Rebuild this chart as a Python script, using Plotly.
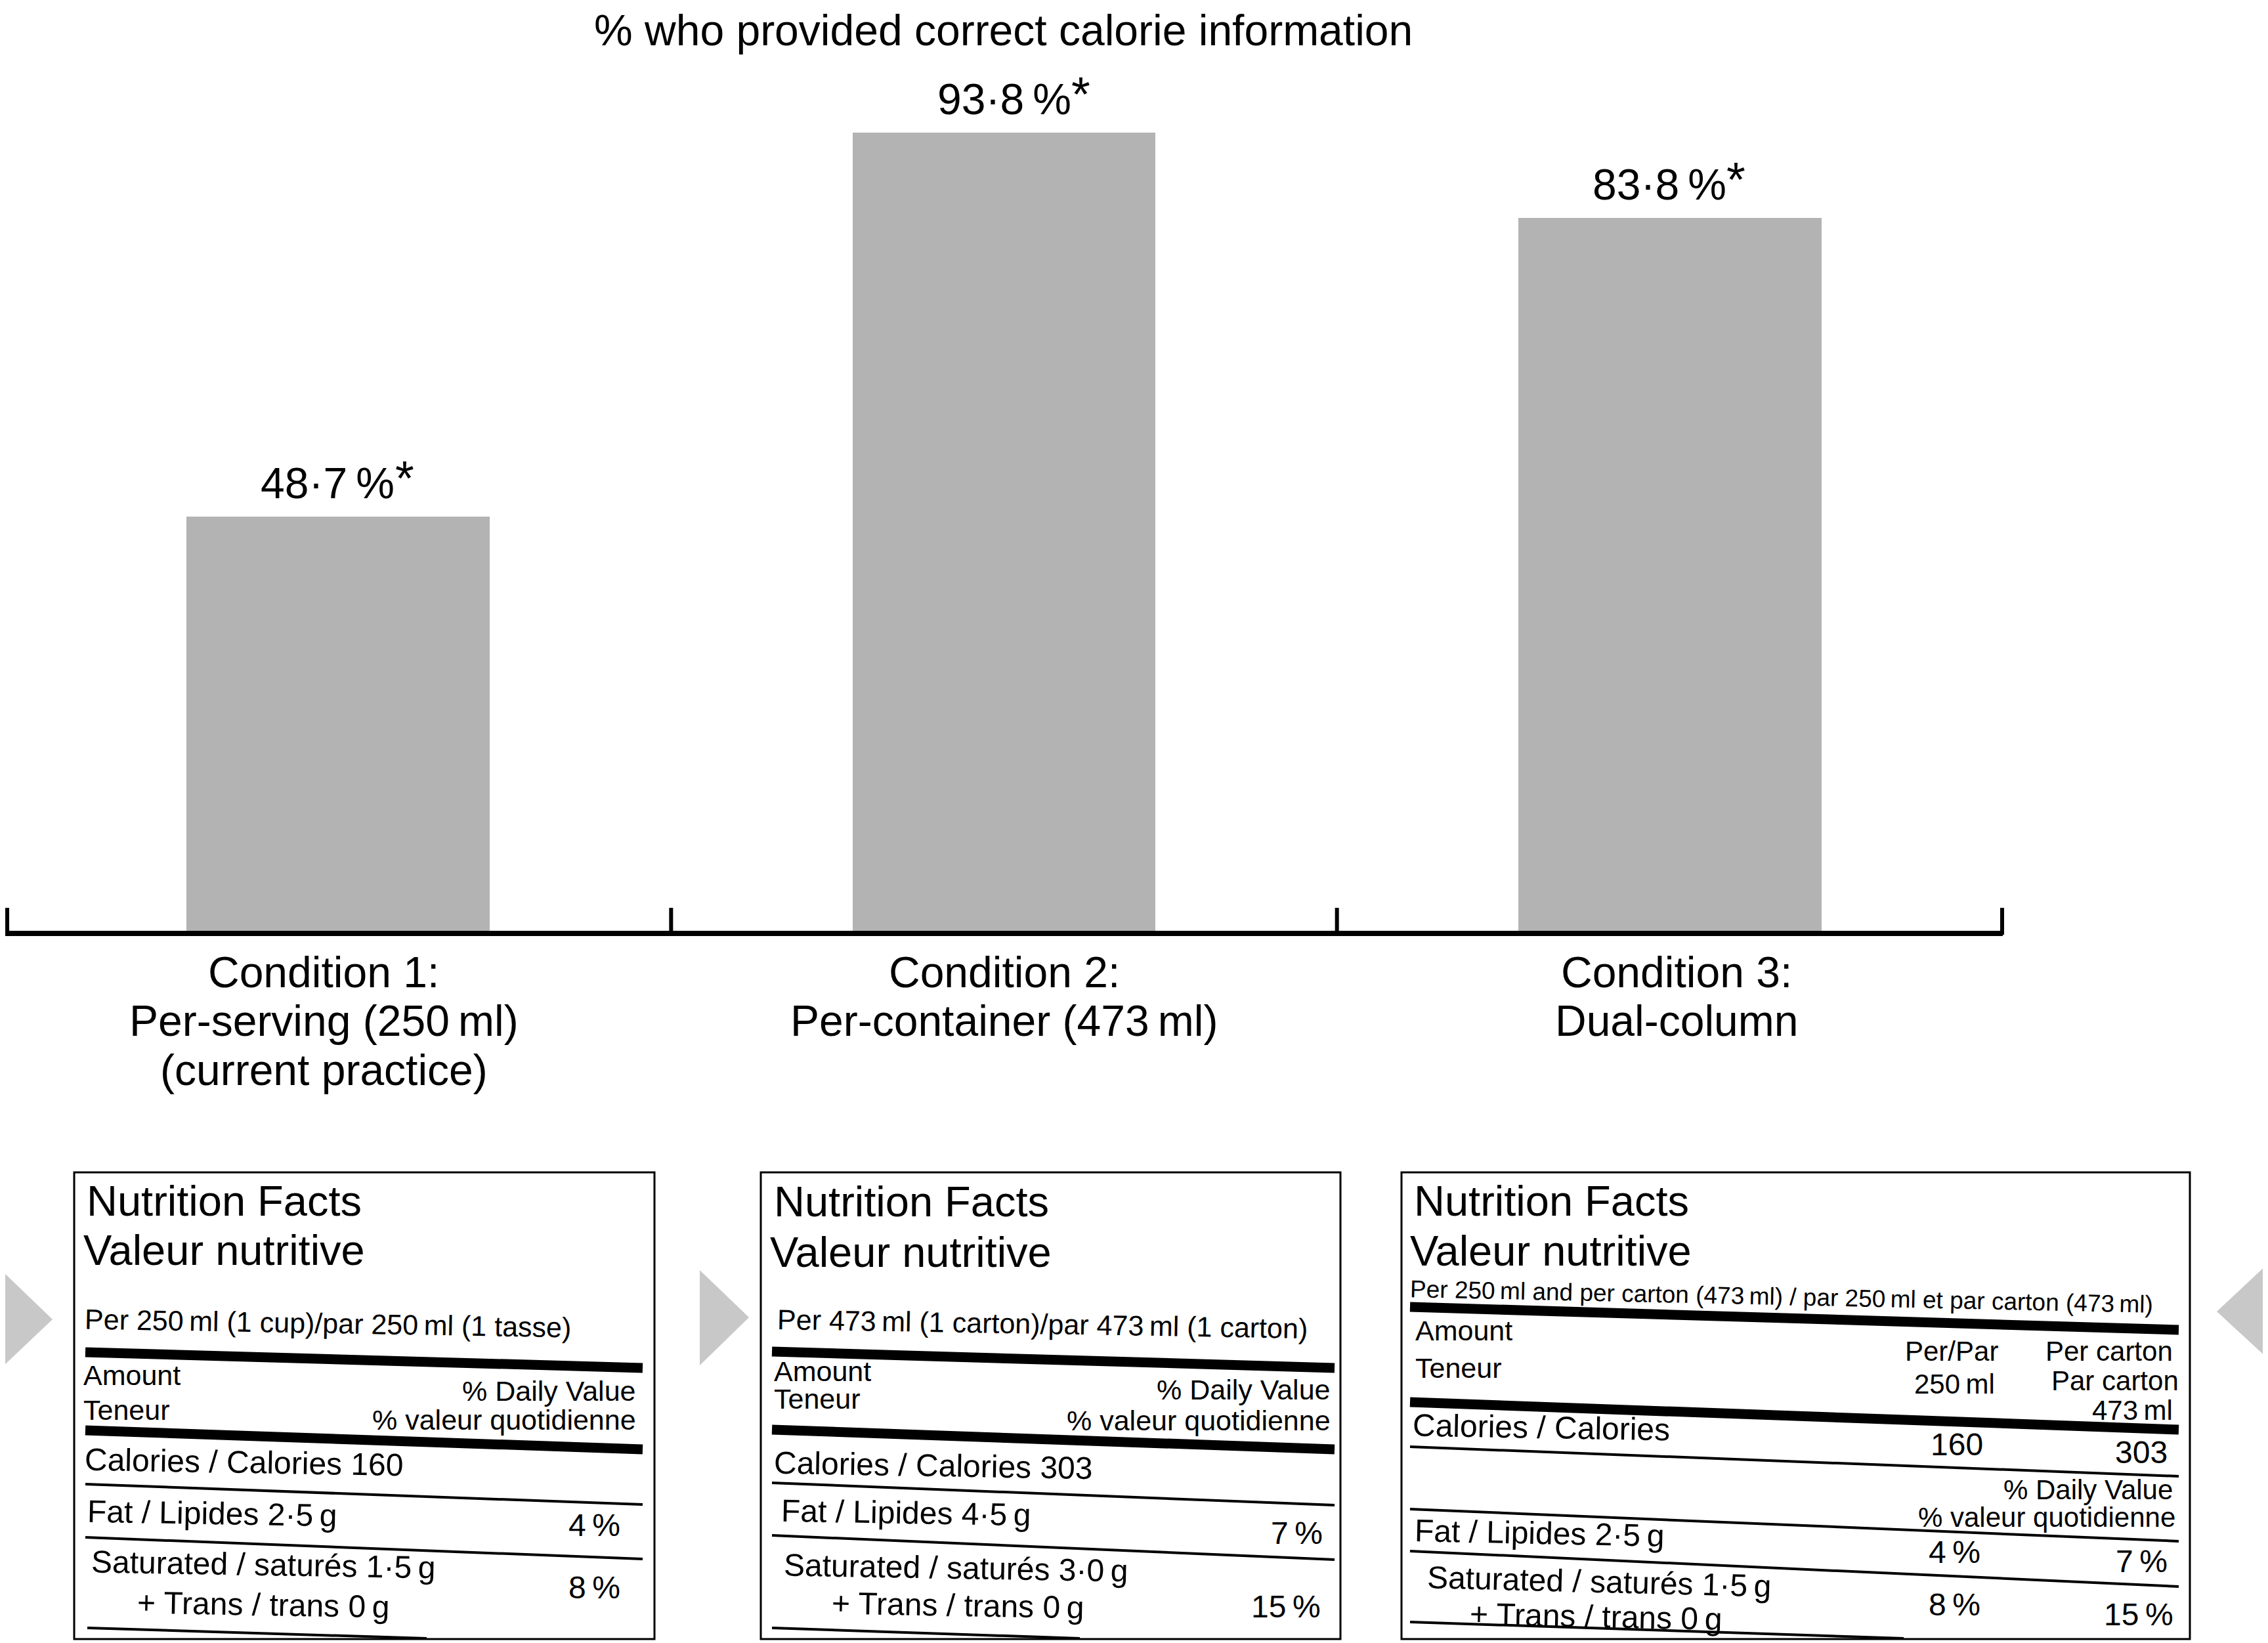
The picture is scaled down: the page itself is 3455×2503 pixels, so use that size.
import math
import plotly.graph_objects as go

W, H = 3455, 2503          # target picture size
OFF = 8                    # default <body> margin of the page
FW, FH = W - OFF, H - OFF  # figure size so that it fills the window after the margin
FONT = "Liberation Sans, Arial, Helvetica, sans-serif"

# ---------------- data ----------------
conditions = ["Condition 1", "Condition 2", "Condition 3"]
pct_correct = [48.7, 93.8, 83.8]
value_labels = ["48·7\u2009%", "93·8\u2009%", "83·8\u2009%"]
significance_mark = "*"
condition_label_lines = [
    ["Condition 1:", "Per-serving (250\u2009ml)", "(current practice)"],
    ["Condition 2:", "Per-container (473\u2009ml)"],
    ["Condition 3:", "Dual-column"],
]
chart_title = "% who provided correct calorie information"

# nutrition label contents
p1_rows = {
    "serving": "Per 250\u2009ml (1 cup)/par 250\u2009ml (1 tasse)",
    "calories": "Calories / Calories 160",
    "fat": "Fat / Lipides 2·5\u2009g", "fat_dv": "4\u2009%",
    "sat": "Saturated / saturés 1·5\u2009g", "trans": "+ Trans / trans 0\u2009g", "sat_dv": "8\u2009%",
}
p2_rows = {
    "serving": "Per 473\u2009ml (1 carton)/par 473\u2009ml (1 carton)",
    "calories": "Calories / Calories 303",
    "fat": "Fat / Lipides 4·5\u2009g", "fat_dv": "7\u2009%",
    "sat": "Saturated / saturés 3·0\u2009g", "trans": "+ Trans / trans 0\u2009g", "sat_dv": "15\u2009%",
}
p3_rows = {
    "serving": "Per 250\u2009ml and per carton (473\u2009ml) / par 250\u2009ml et par carton (473\u2009ml)",
    "calories": "Calories / Calories", "cal_250": "160", "cal_473": "303",
    "fat": "Fat / Lipides 2·5\u2009g", "fat_250": "4\u2009%", "fat_473": "7\u2009%",
    "sat": "Saturated / saturés 1·5\u2009g", "trans": "+ Trans / trans 0\u2009g",
    "sat_250": "8\u2009%", "sat_473": "15\u2009%",
}

# style offsets (pixels) of the texts relative to their bars
value_label_xshift = [-16, 0, -16]
cond_label_xshift = [-22, 0, 10]

# ---------------- helpers (page pixels -> paper) ----------------
def px(x):
    return (x - OFF) / FW


def py(y):
    return 1 - (y - OFF) / FH


annotations = []
shapes = []


def txt(s, x, y_base, size, anchor="left", angle=0, color="black"):
    yc = y_base - 0.3465 * size
    if angle and anchor == "left":
        est_w = 0.5 * size * len(s)
        yc += (est_w / 2) * math.sin(math.radians(angle))
    annotations.append(dict(
        text=s, x=px(x), y=py(yc), xref="paper", yref="paper",
        xanchor=anchor, yanchor="middle", showarrow=False, textangle=angle,
        font=dict(family=FONT, size=size, color=color)))


def line(x0, y0, x1, y1, w):
    shapes.append(dict(type="line", xref="paper", yref="paper",
                       x0=px(x0), y0=py(y0), x1=px(x1), y1=py(y1),
                       line=dict(color="black", width=w)))


def box(x0, y0, x1, y1, w=3):
    shapes.append(dict(type="rect", xref="paper", yref="paper",
                       x0=px(x0), y0=py(y0), x1=px(x1), y1=py(y1),
                       line=dict(color="black", width=w), fillcolor="rgba(0,0,0,0)"))


def tri(pts):
    path = "M " + " L ".join(f"{px(x)},{py(y)}" for x, y in pts) + " Z"
    shapes.append(dict(type="path", xref="paper", yref="paper", path=path,
                       fillcolor="#c8c8c8", line=dict(width=0)))


# ---------------- bar chart ----------------
X_DOMAIN = [0.0, px(3051)]
X_RANGE = [-0.5, len(conditions) - 0.5]

fig = go.Figure()
fig.add_trace(go.Bar(x=conditions, y=pct_correct, width=0.455,
                     marker=dict(color="#b3b3b3", line=dict(width=0)),
                     hoverinfo="skip"))

for c, v, lab, xs in zip(conditions, pct_correct, value_labels, value_label_xshift):
    annotations.append(dict(text=lab, x=c, y=v, xref="x", yref="y",
                            xanchor="center", yanchor="bottom", yshift=12, xshift=xs,
                            showarrow=False, font=dict(family=FONT, size=66, color="black")))
    annotations.append(dict(text=significance_mark, x=c, y=v, xref="x", yref="y",
                            xanchor="center", yanchor="middle", yshift=58, xshift=xs + 117,
                            showarrow=False, font=dict(family=FONT, size=74, color="black")))

cond_bases = [1504, 1578, 1653]
for c, lines, xs in zip(conditions, condition_label_lines, cond_label_xshift):
    for i, ln in enumerate(lines):
        yc = cond_bases[i] - 0.3465 * 66
        annotations.append(dict(text=ln, x=c, y=py(yc), xref="x", yref="paper",
                                xanchor="center", yanchor="middle", showarrow=False, xshift=xs,
                                font=dict(family=FONT, size=66, color="black")))

# category boundary ticks (pointing up from the axis line), placed via the axis mapping
for b in [i - 0.5 for i in range(len(conditions) + 1)]:
    f = (b - X_RANGE[0]) / (X_RANGE[1] - X_RANGE[0])
    xp = X_DOMAIN[0] + f * (X_DOMAIN[1] - X_DOMAIN[0])
    xp = min(max(xp, 3 / FW), X_DOMAIN[1] - 1 / FW)
    shapes.append(dict(type="line", xref="paper", yref="paper", x0=xp, x1=xp,
                       y0=py(1424), y1=py(1383), line=dict(color="black", width=6)))

annotations.append(dict(text=chart_title, x=px((5 + 3051) / 2), y=1, xref="paper", yref="paper",
                        xanchor="center", yanchor="top", showarrow=False, borderpad=0,
                        font=dict(family=FONT, size=66, color="black")))

# ---------------- panel 1 ----------------
box(113, 1786, 997, 2497)
tri([(4, 1937), (80, 2010), (4, 2082)])
txt("Nutrition Facts", 130, 1852, 65)
txt("Valeur nutritive", 125, 1927, 65)
txt(p1_rows["serving"], 127, 2024, 43, angle=1)
line(130, 2060, 979, 2084, 15)
txt("Amount", 125, 2110, 43)
txt("Teneur", 125, 2163, 43)
txt("% Daily Value", 971, 2134, 43, anchor="right")
txt("% valeur quotidienne", 971, 2178, 43, anchor="right")
line(130, 2179, 979, 2208, 15)
txt(p1_rows["calories"], 127, 2239, 48, angle=1)
line(130, 2261, 979, 2292, 4)
txt(p1_rows["fat"], 131, 2318, 48, angle=1)
txt(p1_rows["fat_dv"], 947, 2340, 48, anchor="right")
line(130, 2342, 979, 2375, 4)
txt(p1_rows["sat"], 137, 2395, 48, angle=1)
txt(p1_rows["trans"], 207, 2457, 48, angle=1)
txt(p1_rows["sat_dv"], 947, 2435, 48, anchor="right")
line(133, 2480, 650, 2496, 4)

# ---------------- panel 2 ----------------
box(1159, 1786, 2042, 2497)
tri([(1066, 1935), (1141, 2007), (1066, 2080)])
txt("Nutrition Facts", 1177, 1853, 65)
txt("Valeur nutritive", 1171, 1930, 65)
txt(p2_rows["serving"], 1182, 2024, 43, angle=1)
line(1176, 2059, 2033, 2084, 15)
txt("Amount", 1177, 2104, 43)
txt("Teneur", 1177, 2146, 43)
txt("% Daily Value", 2029, 2132, 43, anchor="right")
txt("% valeur quotidienne", 2029, 2179, 43, anchor="right")
line(1176, 2178, 2033, 2208, 15)
txt(p2_rows["calories"], 1177, 2244, 48, angle=1)
line(1176, 2259, 2033, 2293, 4)
txt(p2_rows["fat"], 1188, 2317, 48, angle=1)
txt(p2_rows["fat_dv"], 2017, 2352, 48, anchor="right")
line(1176, 2339, 2033, 2376, 4)
txt(p2_rows["sat"], 1192, 2400, 48, angle=1)
txt(p2_rows["trans"], 1265, 2458, 48, angle=1)
txt(p2_rows["sat_dv"], 2014, 2464, 48, anchor="right")
line(1176, 2480, 1645, 2496, 4)

# ---------------- panel 3 ----------------
box(2135, 1786, 3336, 2497)
tri([(3455, 1925), (3377, 1998), (3455, 2070)])
txt("Nutrition Facts", 2152, 1852, 65)
txt("Valeur nutritive", 2146, 1928, 65)
txt(p3_rows["serving"], 2146, 1975, 37, angle=1.2)
line(2148, 1991, 3319, 2026, 15)
txt("Amount", 2154, 2042, 43)
txt("Teneur", 2154, 2099, 43)
txt("Per/Par", 2973, 2073, 42, anchor="center")
txt("250\u2009ml", 2977, 2123, 42, anchor="center")
txt("Per carton", 3312, 2073, 42, anchor="right")
txt("Par carton", 3321, 2118, 42, anchor="right")
txt("473\u2009ml", 3312, 2163, 42, anchor="right")
line(2148, 2136, 3319, 2178, 15)
txt(p3_rows["calories"], 2150, 2187, 48, angle=1)
txt(p3_rows["cal_250"], 2981, 2217, 48, anchor="center")
txt(p3_rows["cal_473"], 3262, 2229, 48, anchor="center")
line(2148, 2204, 3319, 2249, 4)
txt("% Daily Value", 3312, 2284, 42, anchor="right")
txt("% valeur quotidienne", 3316, 2326, 42, anchor="right")
line(2148, 2299, 3319, 2348, 4)
txt(p3_rows["fat"], 2152, 2347, 48, angle=1.2)
txt(p3_rows["fat_250"], 2977, 2381, 48, anchor="center")
txt(p3_rows["fat_473"], 3262, 2395, 48, anchor="center")
line(2148, 2363, 3319, 2417, 4)
txt(p3_rows["sat"], 2171, 2418, 48, angle=1.5)
txt(p3_rows["trans"], 2236, 2474, 48, angle=1.2)
txt(p3_rows["sat_250"], 2977, 2461, 48, anchor="center")
txt(p3_rows["sat_473"], 3258, 2476, 48, anchor="center")
line(2148, 2471, 2900, 2496, 4)

# ---------------- layout ----------------
fig.update_layout(
    width=FW, height=FH,
    margin=dict(l=0, r=0, t=0, b=0),
    paper_bgcolor="white", plot_bgcolor="white",
    showlegend=False,
    bargap=0,
    xaxis=dict(domain=X_DOMAIN, type="category", range=X_RANGE,
               showline=True, linecolor="black", linewidth=8,
               ticks="", showticklabels=False, showgrid=False, zeroline=False),
    yaxis=dict(domain=[py(1418), py(121.6)], range=[0, 100], visible=False,
               showgrid=False, zeroline=False),
    annotations=annotations,
    shapes=shapes,
    font=dict(family=FONT, color="black"),
)

fig.write_html("out.html")
